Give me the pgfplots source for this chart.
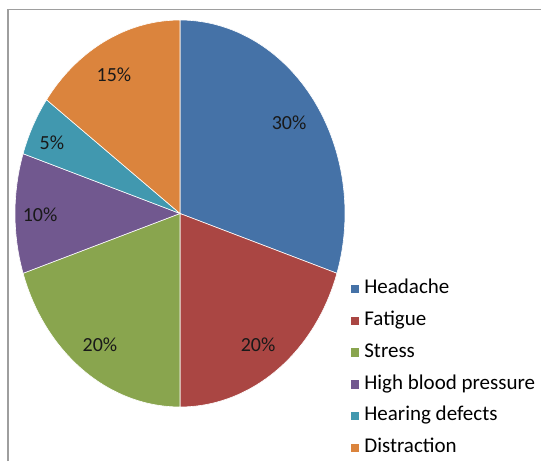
\documentclass[border=0pt]{standalone}
\usepackage{pgfplots}
\pgfplotsset{compat=1.18}
\usepackage{fontspec}
\setmainfont{Carlito}
\definecolor{cHead}{HTML}{4572A7}
\definecolor{cFat}{HTML}{AA4643}
\definecolor{cStr}{HTML}{89A54E}
\definecolor{cHbp}{HTML}{71588F}
\definecolor{cHear}{HTML}{4198AF}
\definecolor{cDis}{HTML}{DB843D}
\begin{document}
\begin{tikzpicture}
\useasboundingbox (0pt,0pt) rectangle (541pt,461pt);
\draw[color=black!38, line width=1.4pt] (8pt,0pt) -- (8pt,451.5pt) -- (541pt,451.5pt);
\begin{axis}[
  x=165pt, y=193.5pt,
  anchor=origin, at={(180pt,247.5pt)},
  xmin=-1, xmax=1, ymin=-1, ymax=1,
  hide axis, clip=false,
  legend style={draw=none, fill=none, at={(1.008,0.332)}, anchor=north west,
    font=\fontsize{21}{25}\selectfont, row sep=14.8pt,
    nodes={inner xsep=5pt, inner ysep=0pt, text height=13pt, text depth=4pt}},
  legend cell align=left,
  legend image code/.code={\fill[#1, draw=none] (0pt,-4pt) rectangle (8.5pt,4.5pt);},
]
% shares: Headache 30, Fatigue 20, Stress 20, High blood pressure 10, Hearing defects 5, Distraction 15
% angles clockwise from 90 deg (1 % = 3.6 deg)
\addplot[fill=cHead, draw=white, line width=0.6pt, domain=90:-18, samples=60, variable=\t] ({cos(t)},{sin(t)}) -- (axis cs:0,0) -- cycle;
\addlegendentry{Headache}
\addplot[fill=cFat, draw=white, line width=0.6pt, domain=-18:-90, samples=40, variable=\t] ({cos(t)},{sin(t)}) -- (axis cs:0,0) -- cycle;
\addlegendentry{Fatigue}
\addplot[fill=cStr, draw=white, line width=0.6pt, domain=-90:-162, samples=40, variable=\t] ({cos(t)},{sin(t)}) -- (axis cs:0,0) -- cycle;
\addlegendentry{Stress}
\addplot[fill=cHbp, draw=white, line width=0.6pt, domain=-162:-198, samples=25, variable=\t] ({cos(t)},{sin(t)}) -- (axis cs:0,0) -- cycle;
\addlegendentry{High blood pressure}
\addplot[fill=cHear, draw=white, line width=0.6pt, domain=-198:-216, samples=15, variable=\t] ({cos(t)},{sin(t)}) -- (axis cs:0,0) -- cycle;
\addlegendentry{Hearing defects}
\addplot[fill=cDis, draw=white, line width=0.6pt, domain=-216:-270, samples=35, variable=\t] ({cos(t)},{sin(t)}) -- (axis cs:0,0) -- cycle;
\addlegendentry{Distraction}
\begin{scope}[font=\fontsize{20}{24}\selectfont, text=black!90]
\node at (axis cs:0.661,0.468) {30\%};
\node at (axis cs:0.473,-0.680) {20\%};
\node at (axis cs:-0.485,-0.680) {20\%};
\node at (axis cs:-0.848,-0.008) {10\%};
\node at (axis cs:-0.776,0.364) {5\%};
\node at (axis cs:-0.400,0.716) {15\%};
\end{scope}
\end{axis}
\end{tikzpicture}
\end{document}
